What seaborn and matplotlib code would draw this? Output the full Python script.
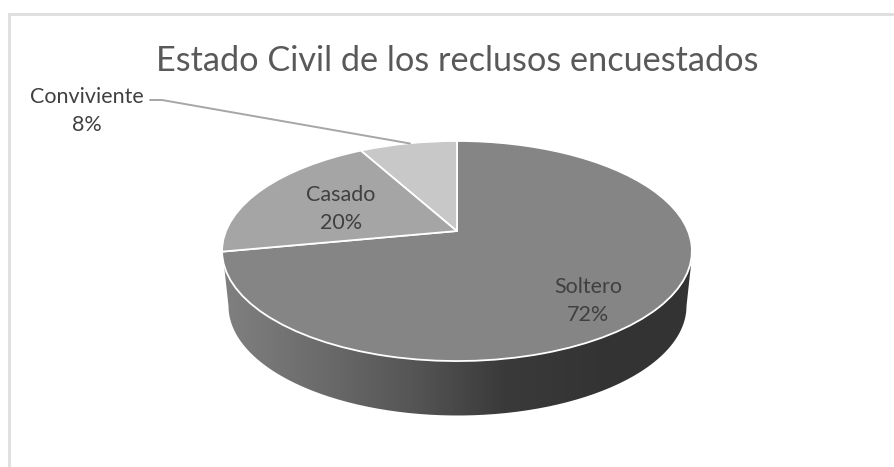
import numpy as np
import matplotlib
matplotlib.use("Agg")
import matplotlib.pyplot as plt
from matplotlib.patches import PathPatch
from matplotlib.path import Path
from matplotlib.transforms import Transform
import seaborn as sns

# data
categories = ["Soltero", "Casado", "Conviviente"]
percents = [72, 20, 8]
slice_colors = ["#858585", "#a5a5a5", "#c8c8c8"]
title = "Estado Civil de los reclusos encuestados"

sns.set_theme(style="white")
plt.rcParams["font.family"] = ["Lato", "DejaVu Sans"]


# tilted pie: pushes the unit circle into the perspective ellipse, pixels out
class Tilt(Transform):
    input_dims = 2
    output_dims = 2

    def transform_non_affine(self, values):
        x, y = values[:, 0], values[:, 1]
        w = 1 + 0.1818 * y
        return np.column_stack([457 + 231 * x / w, 231 - 106.4 * y / w])


fig = plt.figure(figsize=(8.94, 4.67), dpi=100)
ax = fig.add_axes([0, 0, 1, 1])

wedges, _ = ax.pie(percents, colors=slice_colors, startangle=90, counterclock=False,
                   wedgeprops={"edgecolor": "white", "linewidth": 1.3})
for w in wedges:
    w.set_transform(Tilt() + ax.transData)
    w.set_zorder(3)

ax.set_aspect("auto")
ax.set_xlim(0, 894)
ax.set_ylim(467, 0)
ax.axis("off")

# side of the disc, shaded left to right
t = np.linspace(np.pi, 0, 200)
top_x = 457.5 + 235 * np.cos(t)
top_y = 251 + 110 * np.sin(t)
low_x = 457.5 + 229 * np.cos(t[::-1])
low_y = 306 + 109.5 * np.sin(t[::-1])
side = Path(np.column_stack([np.r_[top_x, low_x], np.r_[top_y, low_y]]), closed=False)

shade = sns.blend_palette(["#808080", "#6c6c6c", "#565656", "#3a3a3a", "#343434", "#333333"],
                          as_cmap=True)
img = ax.imshow(np.linspace(0, 1, 256)[None, :], cmap=shade, aspect="auto",
                extent=(223, 692, 420, 245), zorder=2)
img.set_clip_path(PathPatch(side, transform=ax.transData))
ax.set_xlim(0, 894)
ax.set_ylim(467, 0)

# chart frame (only top and left show in the crop)
ax.plot([9, 9, 894], [467, 14, 14], color="#dedede", lw=2, zorder=1, solid_joinstyle="miter")

ax.text(457, 71, title, ha="center", va="baseline", fontsize=24.7, color="#595959")

# data labels, y is the baseline of the percent line
label_pos = [(588, 321), (341, 229), (87, 131)]
for cat, pct, (lx, ly) in zip(categories, percents, label_pos):
    ax.text(lx, ly, f"{cat}\n{pct}%", ha="center", va="baseline", fontsize=15.5,
            color="#404040", linespacing=1.52, zorder=5)

# leader line for Conviviente
ax.plot([150, 162, 410], [100, 100, 143.5], color="#a6a6a6", lw=1.4, zorder=4)

fig.savefig("out.png", dpi=100)
